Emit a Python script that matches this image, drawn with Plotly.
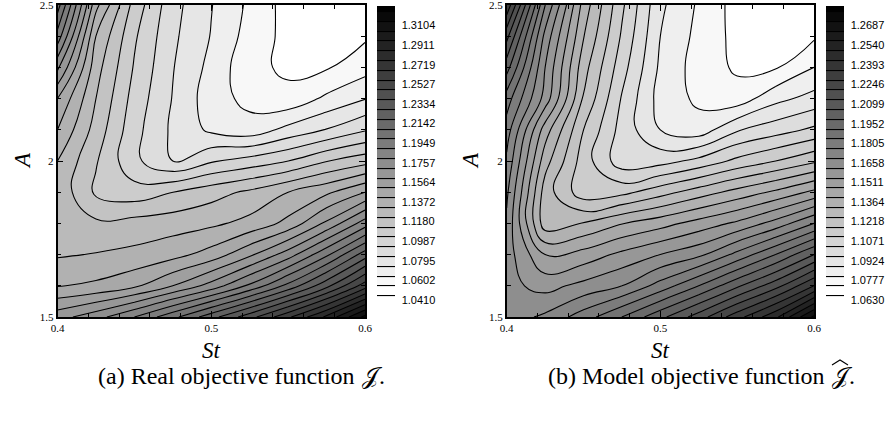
import plotly.graph_objects as go

# ---- data ----
St = [0.4, 0.425, 0.45, 0.475, 0.5, 0.525, 0.55, 0.575, 0.6]
A = [1.5, 1.6, 1.7, 1.8, 1.9, 2.0, 2.1, 2.2, 2.3, 2.4, 2.5]

# rows: A = 1.5 ... 2.5, columns: St = 0.4 ... 0.6
J_real = [
    [1.1670, 1.1767, 1.1901, 1.2065, 1.2248, 1.2440, 1.2652, 1.2883, 1.3180],
    [1.1415, 1.1439, 1.1497, 1.1613, 1.1747, 1.1921, 1.2123, 1.2354, 1.2623],
    [1.1314, 1.1329, 1.1348, 1.1387, 1.1459, 1.1593, 1.1757, 1.1978, 1.2238],
    [1.1281, 1.1247, 1.1266, 1.1281, 1.1305, 1.1353, 1.1449, 1.1632, 1.1853],
    [1.1300, 1.1112, 1.1074, 1.1131, 1.1189, 1.1247, 1.1324, 1.1401, 1.1516],
    [1.1324, 1.1141, 1.0963, 1.0843, 1.0929, 1.0978, 1.1035, 1.1127, 1.1189],
    [1.1420, 1.1189, 1.0973, 1.0824, 1.0727, 1.0689, 1.0776, 1.0848, 1.0929],
    [1.1516, 1.1228, 1.0997, 1.0838, 1.0694, 1.0622, 1.0583, 1.0670, 1.0742],
    [1.1730, 1.1266, 1.1026, 1.0848, 1.0718, 1.0583, 1.0535, 1.0545, 1.0612],
    [1.1960, 1.1324, 1.1050, 1.0862, 1.0742, 1.0612, 1.0525, 1.0487, 1.0540],
    [1.2140, 1.1450, 1.1093, 1.0877, 1.0751, 1.0631, 1.0516, 1.0487, 1.0496],
]

J_model = [
    [1.1659, 1.1710, 1.1806, 1.1916, 1.2041, 1.2173, 1.2327, 1.2485, 1.2740],
    [1.1644, 1.1596, 1.1644, 1.1695, 1.1798, 1.1916, 1.2048, 1.2180, 1.2357],
    [1.1659, 1.1475, 1.1504, 1.1567, 1.1622, 1.1677, 1.1791, 1.1916, 1.2063],
    [1.1681, 1.1284, 1.1332, 1.1398, 1.1446, 1.1504, 1.1563, 1.1651, 1.1769],
    [1.1710, 1.1291, 1.1137, 1.1159, 1.1225, 1.1291, 1.1354, 1.1416, 1.1493],
    [1.1754, 1.1358, 1.1145, 1.0990, 1.1005, 1.1056, 1.1126, 1.1181, 1.1240],
    [1.1806, 1.1438, 1.1181, 1.1005, 1.0887, 1.0843, 1.0954, 1.1001, 1.1049],
    [1.1879, 1.1593, 1.1247, 1.1027, 1.0858, 1.0799, 1.0770, 1.0865, 1.0913],
    [1.2020, 1.1622, 1.1284, 1.1064, 1.0873, 1.0781, 1.0729, 1.0733, 1.0814],
    [1.2160, 1.1673, 1.1332, 1.1097, 1.0887, 1.0792, 1.0718, 1.0689, 1.0729],
    [1.2340, 1.1770, 1.1372, 1.1122, 1.0902, 1.0803, 1.0711, 1.0689, 1.0696],
]

real_ticks = [1.0410, 1.0602, 1.0795, 1.0987, 1.1180, 1.1372, 1.1564, 1.1757,
              1.1949, 1.2142, 1.2334, 1.2527, 1.2719, 1.2911, 1.3104]
model_ticks = [1.0630, 1.0777, 1.0924, 1.1071, 1.1218, 1.1364, 1.1511, 1.1658,
               1.1805, 1.1952, 1.2099, 1.2246, 1.2393, 1.2540, 1.2687]

x_ticks = [0.4, 0.5, 0.6]
y_ticks = [1.5, 2, 2.5]
caption_text = ["(a) Real objective function", "(b) Model objective function"]
caption_sym = ["𝒥.", "𝒥."]

# ---- layout helpers ----
W, H = 891, 427
def px(x):
    return x / W
def py(y):
    return 1 - y / H

GRAY = [[0.0, "#ffffff"], [0.04, "#ffffff"], [1.0, "#000000"]]
SERIF = "Liberation Serif"
SANS = "Liberation Sans"


def contour(z, ticks, xa, ya, cb_left):
    step = (ticks[-1] - ticks[0]) / (2 * (len(ticks) - 1))
    return go.Contour(
        x=St, y=A, z=z, xaxis=xa, yaxis=ya,
        colorscale=GRAY,
        autocontour=False,
        contours=dict(start=ticks[0] + step / 2, end=ticks[-1] + 1.5 * step,
                      size=step, coloring="fill", showlines=True),
        line=dict(color="black", width=1.1, smoothing=1.25),
        hoverinfo="skip",
        colorbar=dict(
            x=px(cb_left), xanchor="left", xpad=0,
            y=py(6), yanchor="top", ypad=0,
            len=294, lenmode="pixels", thickness=18, thicknessmode="pixels",
            outlinewidth=0,
            tickvals=ticks, ticktext=[f"{v:.4f}" for v in ticks],
            tickfont=dict(family=SANS, size=11, color="black"),
            ticks="outside", ticklen=5, tickcolor="rgba(0,0,0,0)",
        ),
    )


fig = go.Figure()
fig.add_trace(contour(J_real, real_ticks, "x", "y", 376.7))
fig.add_trace(contour(J_model, model_ticks, "x2", "y2", 826))

axis_common = dict(
    showline=True, linecolor="black", linewidth=1.6, mirror="ticks",
    ticks="inside", ticklen=6, tickwidth=1, tickcolor="black",
    showgrid=False, zeroline=False, ticklabeloverflow="allow",
    tickfont=dict(family=SERIF, size=11, color="black"),
)
minor_x = dict(dtick=0.02, ticks="inside", ticklen=4, tickcolor="black", showgrid=False)
minor_y = dict(dtick=0.1, ticks="inside", ticklen=4, tickcolor="black", showgrid=False)

fig.update_layout(
    width=W, height=H,
    margin=dict(l=0, r=0, t=0, b=0, autoexpand=False),
    paper_bgcolor="white", plot_bgcolor="white",
    showlegend=False,
    xaxis=dict(domain=[px(57.5), px(365)], range=[0.4, 0.6], anchor="y",
               tickvals=x_ticks, ticktext=["0.4", "0.5", "0.6"], minor=minor_x, **axis_common),
    yaxis=dict(domain=[py(317), py(5)], range=[1.5, 2.5], anchor="x",
               tickvals=y_ticks, ticktext=["1.5", "2", "2.5"], minor=minor_y, **axis_common),
    xaxis2=dict(domain=[px(506.7), px(814)], range=[0.4, 0.6], anchor="y2",
                tickvals=x_ticks, ticktext=["0.4", "0.5", "0.6"], minor=minor_x, **axis_common),
    yaxis2=dict(domain=[py(317), py(5)], range=[1.5, 2.5], anchor="x2",
                tickvals=y_ticks, ticktext=["1.5", "2", "2.5"], minor=minor_y, **axis_common),
)

ann = []
for xc, ax_x in [(211.3, 22), (660.4, 470)]:
    ann.append(dict(x=px(xc), y=py(350), xref="paper", yref="paper", text="<i>St</i>",
                    xanchor="center", yanchor="middle",
                    showarrow=False, font=dict(family=SERIF, size=23, color="black")))
    ann.append(dict(x=px(ax_x), y=py(161), xref="paper", yref="paper", text="<i>A</i>",
                    xanchor="center", yanchor="middle",
                    textangle=-90, showarrow=False, font=dict(family=SERIF, size=23, color="black")))

# captions: text part right-aligned, symbol part left-aligned just after it
cap_split = [357, 827]
for xs, text, sym in zip(cap_split, caption_text, caption_sym):
    ann.append(dict(x=px(xs), y=py(376), xref="paper", yref="paper", text=text,
                    xanchor="right", yanchor="middle",
                    showarrow=False, font=dict(family=SERIF, size=24, color="black")))
    ann.append(dict(x=px(xs + 3), y=py(376), xref="paper", yref="paper", text=sym,
                    xanchor="left", yanchor="middle",
                    showarrow=False, font=dict(family=SERIF, size=24, color="black")))
fig.update_layout(annotations=ann)

# hat over the model symbol
hx = cap_split[1] + 3 + 10
fig.add_shape(type="path", xref="paper", yref="paper",
              path=f"M {px(hx - 8)} {py(365)} L {px(hx)} {py(360)} L {px(hx + 8)} {py(365)}",
              line=dict(color="black", width=1.1))

fig.write_html("out.html", config={"displayModeBar": False},
               post_script="document.body.style.margin='0px';document.body.style.overflow='hidden';")
